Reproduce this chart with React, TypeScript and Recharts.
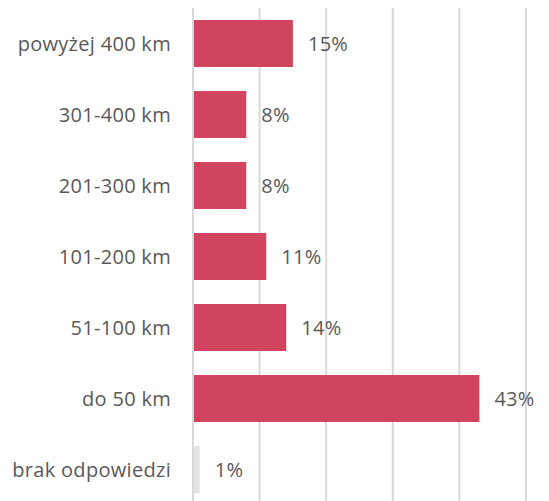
import React from "react";
import {
  BarChart,
  Bar,
  XAxis,
  YAxis,
  CartesianGrid,
  LabelList,
  Cell,
} from "recharts";

const categories = [
  "powyżej 400 km",
  "301-400 km",
  "201-300 km",
  "101-200 km",
  "51-100 km",
  "do 50 km",
  "brak odpowiedzi",
];
const shares = [15, 8, 8, 11, 14, 43, 1];
const barColors = ["#d0445f", "#d0445f", "#d0445f", "#d0445f", "#d0445f", "#d0445f", "#e3e3e3"];
const xTicks = [0, 10, 20, 30, 40, 50];

const data = categories.map((label, i) => ({ label, value: shares[i] }));

const font = "'Open Sans', Lato, sans-serif";
const textStyle = { fill: "#595959", fontSize: 20, letterSpacing: 0.3, fontFamily: font };

const App: React.FC = () => (
  <div style={{ position: "absolute", left: 0, top: 0 }}>
    <BarChart
      width={549}
      height={505}
      data={data}
      layout="vertical"
      margin={{ top: 8, right: 23, bottom: 0, left: 0 }}
      barSize={47}
    >
      <CartesianGrid horizontal={false} stroke="#d9d9d9" strokeWidth={2} />
      <XAxis type="number" domain={[0, 50]} ticks={xTicks} hide />
      <YAxis
        type="category"
        dataKey="label"
        width={193}
        tickLine={false}
        tickSize={0}
        tickMargin={22}
        axisLine={{ stroke: "#d9d9d9", strokeWidth: 2 }}
        tick={textStyle}
      />
      <Bar dataKey="value" isAnimationActive={false}>
        {data.map((d, i) => (
          <Cell key={d.label} fill={barColors[i]} />
        ))}
        <LabelList
          dataKey="value"
          position="right"
          offset={15}
          formatter={(v: number) => `${v}%`}
          style={textStyle}
        />
      </Bar>
    </BarChart>
  </div>
);

export default App;
